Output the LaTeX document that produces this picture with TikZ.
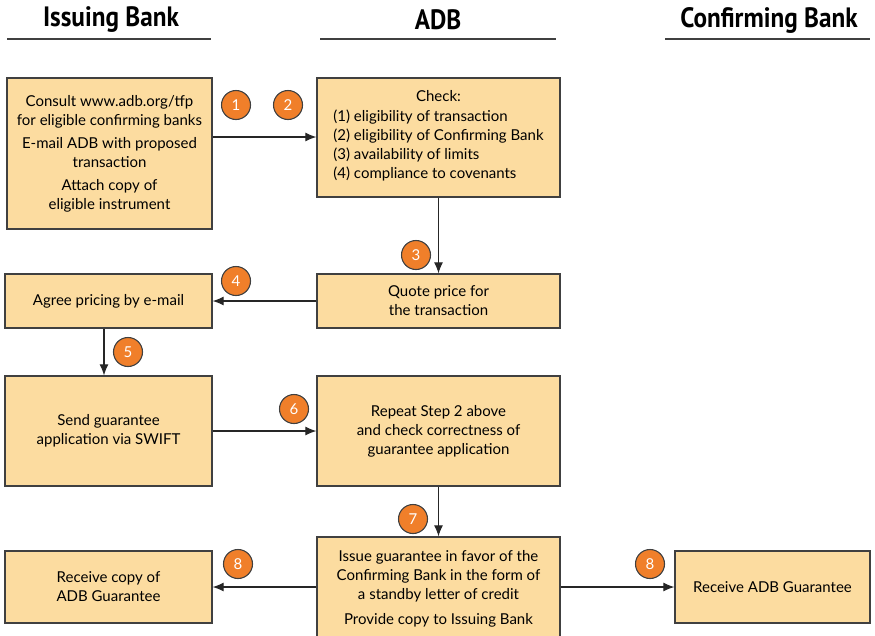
\documentclass[tikz,border=0pt]{standalone}
\usepackage{fontspec}
\usetikzlibrary{arrows.meta}
\setmainfont{Lato}
\newfontfamily\headfont[FakeStretch=0.9]{PT Sans}
\definecolor{boxfill}{HTML}{FCDCA0}
\definecolor{boxline}{HTML}{404040}
\definecolor{stepfill}{HTML}{F07F2A}
\tikzset{
  stepbox/.style={draw=boxline, line width=1.3pt, fill=boxfill, align=center, inner sep=0pt,
    font=\fontsize{15}{19}\selectfont},
  stepnum/.style={circle, draw=boxline, line width=1.1pt, fill=stepfill, text=white, minimum size=29pt,
    inner sep=0pt, font=\fontsize{15}{16}\selectfont},
  lane/.style={font=\headfont\bfseries\fontsize{28}{30}\selectfont},
  flow/.style={-{Latex[length=11pt,width=9pt]}, line width=1.1pt, color=black!85}
}
\begin{document}
\begin{tikzpicture}[x=1pt, y=-1pt]
        \useasboundingbox (0,0) rectangle (875,635);

        % Lane titles with underlines
        \node[lane] (hIB) at (111,20) {Issuing Bank};
        \node[lane] (hADB) at (438,20) {ADB};
        \node[lane] (hCB) at (769,20) {Confirming Bank};
        \draw[line width=1.6pt, boxline] (7,39) -- (211,39);
        \draw[line width=1.6pt, boxline] (320,39) -- (556,39);
        \draw[line width=1.6pt, boxline] (665,39) -- (870,39);

        % Boxes
        \node[stepbox, minimum width=205pt, minimum height=151pt] (consult) at (109.5,153.5)
          {Consult www.adb.org/tfp\\for eligible confirming banks\\[4pt]E-mail ADB with proposed\\transaction\\[4pt]Attach copy of\\eligible instrument};
        \node[stepbox, minimum width=243pt, minimum height=119pt] (check) at (438.5,137.5)
          {Check:\\[5pt]\begin{tabular}{@{}l@{}}(1) eligibility of transaction\\(2) eligibility of Confirming Bank\\(3) availability of limits\\(4) compliance to covenants\end{tabular}};
        \node[stepbox, minimum width=243pt, minimum height=54pt] (quote) at (438.5,301)
          {Quote price for\\the transaction};
        \node[stepbox, minimum width=207pt, minimum height=54pt] (agree) at (108.5,301)
          {Agree pricing by e-mail};
        \node[stepbox, minimum width=207pt, minimum height=110pt] (send) at (108.5,431)
          {Send guarantee\\application via SWIFT};
        \node[stepbox, minimum width=243pt, minimum height=110pt] (repeat) at (438.5,431)
          {Repeat Step 2 above\\and check correctness of\\guarantee application};
        \node[stepbox, minimum width=243pt, minimum height=104pt] (issue) at (438.5,589)
          {Issue guarantee in favor of the\\Confirming Bank in the form of\\a standby letter of credit\\[6pt]Provide copy to Issuing Bank};
        \node[stepbox, minimum width=207pt, minimum height=72pt] (copy) at (108.5,587)
          {Receive copy of\\ADB Guarantee};
        \node[stepbox, minimum width=195pt, minimum height=72pt] (receive) at (772.5,587)
          {Receive ADB Guarantee};

        % Arrows
        \draw[flow] (consult.east |- 0,137) -- (check.west |- 0,137);
        \draw[flow] (check.south) -- (quote.north);
        \draw[flow] (quote.west) -- (agree.east);
        \draw[flow] (agree.south -| 104,0) -- (send.north -| 104,0);
        \draw[flow] (send.east) -- (repeat.west);
        \draw[flow] (repeat.south) -- (issue.north);
        \draw[flow] (issue.west |- copy.east) -- (copy.east);
        \draw[flow] (issue.east |- receive.west) -- (receive.west);

        % Step numbers
        \node[stepnum] (n1) at (236,105) {1};
        \node[stepnum] (n2) at (288,105) {2};
        \node[stepnum] (n3) at (416,255) {3};
        \node[stepnum] (n4) at (236,281) {4};
        \node[stepnum] (n5) at (128,352) {5};
        \node[stepnum] (n6) at (294,409) {6};
        \node[stepnum] (n7) at (413,519) {7};
        \node[stepnum] (n8a) at (238,564) {8};
        \node[stepnum] (n8b) at (650,564) {8};
\end{tikzpicture}
\end{document}
